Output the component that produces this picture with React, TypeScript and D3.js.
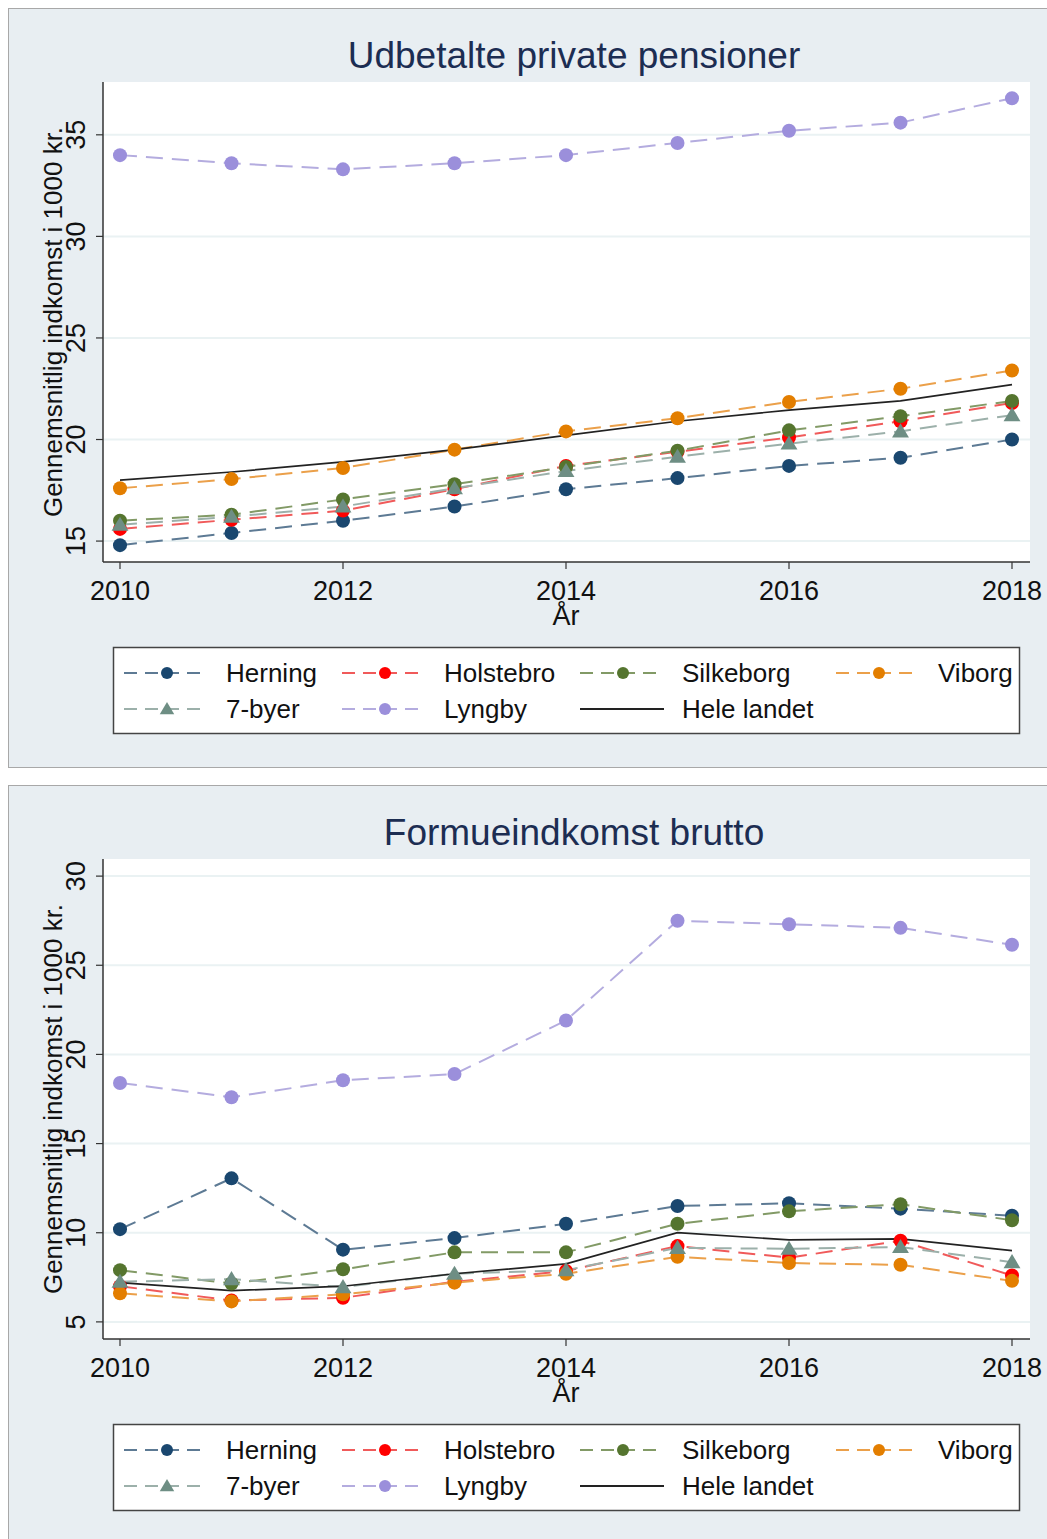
import React from 'react';
import * as d3 from 'd3';

const years = [2010, 2011, 2012, 2013, 2014, 2015, 2016, 2017, 2018];
const seriesNames = ['Herning', 'Holstebro', 'Silkeborg', 'Viborg', '7-byer', 'Lyngby', 'Hele landet'];

// Udbetalte private pensioner
const pensHerning = [14.8, 15.4, 16.0, 16.7, 17.55, 18.1, 18.7, 19.1, 20.0];
const pensHolstebro = [15.6, 16.05, 16.5, 17.55, 18.7, 19.4, 20.1, 20.9, 21.8];
const pensSilkeborg = [16.0, 16.3, 17.05, 17.8, 18.65, 19.45, 20.45, 21.15, 21.9];
const pensViborg = [17.6, 18.05, 18.6, 19.5, 20.4, 21.05, 21.85, 22.5, 23.4];
const pens7byer = [15.8, 16.2, 16.7, 17.6, 18.45, 19.15, 19.8, 20.4, 21.2];
const pensLyngby = [34.0, 33.6, 33.3, 33.6, 34.0, 34.6, 35.2, 35.6, 36.8];
const pensHele = [18.0, 18.4, 18.9, 19.5, 20.2, 20.9, 21.45, 21.9, 22.7];

// Formueindkomst brutto
const formHerning = [10.2, 13.05, 9.05, 9.7, 10.5, 11.5, 11.65, 11.35, 10.95];
const formHolstebro = [7.0, 6.2, 6.35, 7.25, 7.85, 9.25, 8.6, 9.55, 7.6];
const formSilkeborg = [7.9, 7.15, 7.95, 8.9, 8.9, 10.5, 11.2, 11.6, 10.7];
const formViborg = [6.6, 6.15, 6.55, 7.2, 7.7, 8.65, 8.3, 8.2, 7.3];
const form7byer = [7.25, 7.4, 6.95, 7.7, 7.9, 9.15, 9.1, 9.2, 8.35];
const formLyngby = [18.4, 17.6, 18.55, 18.9, 21.9, 27.5, 27.3, 27.1, 26.15];
const formHele = [7.2, 6.75, 7.0, 7.7, 8.25, 10.0, 9.6, 9.65, 9.0];

const pensTicks = [15, 20, 25, 30, 35];
const formTicks = [5, 10, 15, 20, 25, 30];

const colors = ['#1a476f', '#ff0000', '#55752f', '#e37e00', '#6e8e84', '#9b8fdb', '#222222'];
const lineColors = ['#5d7a94', '#f05a5a', '#829a66', '#eba04a', '#9cb0aa', '#b4acdf', '#222222'];
const markers = ['circle', 'circle', 'circle', 'circle', 'triangle', 'circle', 'none'];

const FONT = '"Liberation Sans", Arial, Helvetica, sans-serif';

interface PanelProps {
  top: number;
  title: string;
  domain: [number, number];
  ticks: number[];
  data: number[][];
}

const Marker: React.FC<{ kind: string; x: number; y: number; r: number; color: string }> = ({ kind, x, y, r, color }) => {
  if (kind === 'circle') return <circle cx={x} cy={y} r={r} fill={color} />;
  if (kind === 'triangle') {
    const s = r * 1.15;
    return <path d={`M${x},${y - s}L${x + s * 1.05},${y + s * 0.75}L${x - s * 1.05},${y + s * 0.75}Z`} fill={color} />;
  }
  return null;
};

const Panel: React.FC<PanelProps> = ({ top, title, domain, ticks, data }) => {
  const plotLeft = 103;
  const plotRight = 1030;
  const plotTop = top + 74;
  const plotBottom = top + 554;

  const x = d3.scaleLinear().domain([2010, 2018]).range([120, 1012]);
  const y = d3.scaleLinear().domain(domain).range([plotBottom, plotTop]);
  const line = d3.line<number>().x((_, i) => x(years[i])).y(d => y(d));

  const legTop = top + 639;
  const legCols = [124, 342, 580, 836];
  const legRows = [legTop + 26, legTop + 62];

  return (
    <g>
      <rect x={8.5} y={top + 0.5} width={1045} height={759} fill="#e8eef2" stroke="#a8a8a8" />
      <text x={574} y={top + 60} textAnchor="middle" fontSize={37} fill="#1c2d52" fontFamily={FONT}>{title}</text>
      <rect x={plotLeft} y={plotTop} width={plotRight - plotLeft} height={plotBottom - plotTop} fill="#ffffff" />
      {ticks.map(t => (
        <g key={t}>
          <line x1={plotLeft} x2={plotRight} y1={y(t)} y2={y(t)} stroke="#eaf2f3" strokeWidth={2} />
          <line x1={plotLeft - 7} x2={plotLeft} y1={y(t)} y2={y(t)} stroke="#333" strokeWidth={1.2} />
          <text transform={`translate(${plotLeft - 18},${y(t)}) rotate(-90)`} textAnchor="middle" fontSize={27} fill="#111" fontFamily={FONT}>{t}</text>
        </g>
      ))}
      <line x1={plotLeft} x2={plotLeft} y1={plotTop} y2={plotBottom} stroke="#333" strokeWidth={1.5} />
      <line x1={plotLeft} x2={plotRight} y1={plotBottom} y2={plotBottom} stroke="#333" strokeWidth={1.5} />
      {years.filter(yr => yr % 2 === 0).map(yr => (
        <g key={yr}>
          <line x1={x(yr)} x2={x(yr)} y1={plotBottom} y2={plotBottom + 7} stroke="#333" strokeWidth={1.2} />
          <text x={x(yr)} y={plotBottom + 38} textAnchor="middle" fontSize={27} fill="#111" fontFamily={FONT}>{yr}</text>
        </g>
      ))}
      <text x={566} y={plotBottom + 63} textAnchor="middle" fontSize={27} fill="#111" fontFamily={FONT}>År</text>
      <text transform={`translate(${62},${(plotTop + plotBottom) / 2}) rotate(-90)`} textAnchor="middle" fontSize={26} fill="#111" fontFamily={FONT}>Gennemsnitlig indkomst i 1000 kr.</text>

      {data.map((vals, s) => (
        <path key={`l${s}`} d={line(vals) || ''} fill="none" stroke={lineColors[s]} strokeWidth={s === 6 ? 1.7 : 2}
          strokeDasharray={s === 6 ? undefined : '17,9'} />
      ))}
      {data.map((vals, s) => (
        <g key={`m${s}`}>
          {vals.map((v, i) => (
            <Marker key={i} kind={markers[s]} x={x(years[i])} y={y(v)} r={7} color={colors[s]} />
          ))}
        </g>
      ))}

      <rect x={113.5} y={legTop + 0.5} width={906} height={86} fill="#ffffff" stroke="#444" strokeWidth={1.5} />
      {seriesNames.map((name, s) => {
        const col = s < 4 ? s : s - 4;
        const row = s < 4 ? 0 : 1;
        const kx = legCols[col];
        const ky = legRows[row];
        return (
          <g key={name}>
            <line x1={kx} x2={kx + 84} y1={ky} y2={ky} stroke={lineColors[s]} strokeWidth={1.8}
              strokeDasharray={s === 6 ? undefined : '13,8'} />
            <Marker kind={markers[s]} x={kx + 43} y={ky} r={6} color={colors[s]} />
            <text x={kx + 102} y={ky + 9} fontSize={26} fill="#111" fontFamily={FONT}>{name}</text>
          </g>
        );
      })}
    </g>
  );
};

export default function App() {
  return (
    <svg width={1047} height={1539} style={{ position: 'absolute', left: 0, top: 0, background: '#ffffff' }}>
      <Panel top={8} title="Udbetalte private pensioner" domain={[13.97, 37.6]} ticks={pensTicks}
        data={[pensHerning, pensHolstebro, pensSilkeborg, pensViborg, pens7byer, pensLyngby, pensHele]} />
      <Panel top={785} title="Formueindkomst brutto" domain={[4.04, 30.96]} ticks={formTicks}
        data={[formHerning, formHolstebro, formSilkeborg, formViborg, form7byer, formLyngby, formHele]} />
    </svg>
  );
}
